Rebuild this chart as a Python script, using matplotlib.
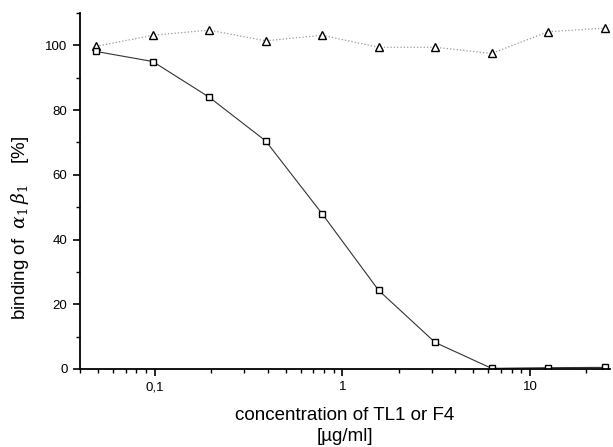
import matplotlib
matplotlib.use("Agg")
import matplotlib.pyplot as plt
from matplotlib.ticker import FixedLocator, LogLocator, NullFormatter, MultipleLocator

plt.rcParams['font.family'] = ['Liberation Sans', 'DejaVu Sans']
plt.rcParams['mathtext.fontset'] = 'dejavuserif'

conc = [0.0488, 0.0977, 0.195, 0.39, 0.78, 1.5625, 3.125, 6.25, 12.5, 25.0]
tl1 = [98.1, 95.0, 84.0, 70.5, 48.0, 24.3, 8.2, 0.2, 0.4, 0.5]
f4 = [99.7, 103.1, 104.7, 101.4, 103.1, 99.4, 99.4, 97.5, 104.2, 105.3]
xtick_vals = [0.1, 1, 10]
xtick_labels = ['0,1', '1', '10']
ytick_vals = [0, 20, 40, 60, 80, 100]

fig = plt.figure(figsize=(6.13, 4.47), dpi=100)
ax = fig.add_axes([0.1305, 0.1745, 0.8645, 0.7965])

ax.plot(conc, f4, linestyle=':', color='#999999', linewidth=0.9,
        marker='^', markersize=6, markerfacecolor='white',
        markeredgecolor='black', markeredgewidth=1.0)
ax.plot(conc, tl1, linestyle='-', color='#333333', linewidth=0.8,
        marker='s', markersize=5, markerfacecolor='white',
        markeredgecolor='black', markeredgewidth=1.0)

ax.set_xscale('log')
ax.set_xlim(0.04, 26.7)
ax.set_ylim(0, 110)

ax.xaxis.set_major_locator(FixedLocator(xtick_vals))
ax.set_xticklabels(xtick_labels)
ax.xaxis.set_minor_locator(LogLocator(base=10, subs=range(2, 10)))
ax.xaxis.set_minor_formatter(NullFormatter())
ax.set_yticks(ytick_vals)
ax.yaxis.set_minor_locator(MultipleLocator(10))

for s in ['top', 'right']:
    ax.spines[s].set_visible(False)
for s in ['left', 'bottom']:
    ax.spines[s].set_linewidth(1.3)

ax.tick_params(axis='both', which='major', direction='out', length=5, width=1.2,
               labelsize=9.5, pad=4)
ax.tick_params(axis='both', which='minor', direction='out', length=3, width=1.0)

ax.set_xlabel('concentration of TL1 or F4\n[µg/ml]', fontsize=13.5, linespacing=1.3, labelpad=10)
ax.set_ylabel(r'binding of  $\alpha_1\,\beta_1$    [%]', fontsize=13.5)
ax.yaxis.set_label_coords(-0.092, 0.396)

fig.savefig('out.png', dpi=100)
